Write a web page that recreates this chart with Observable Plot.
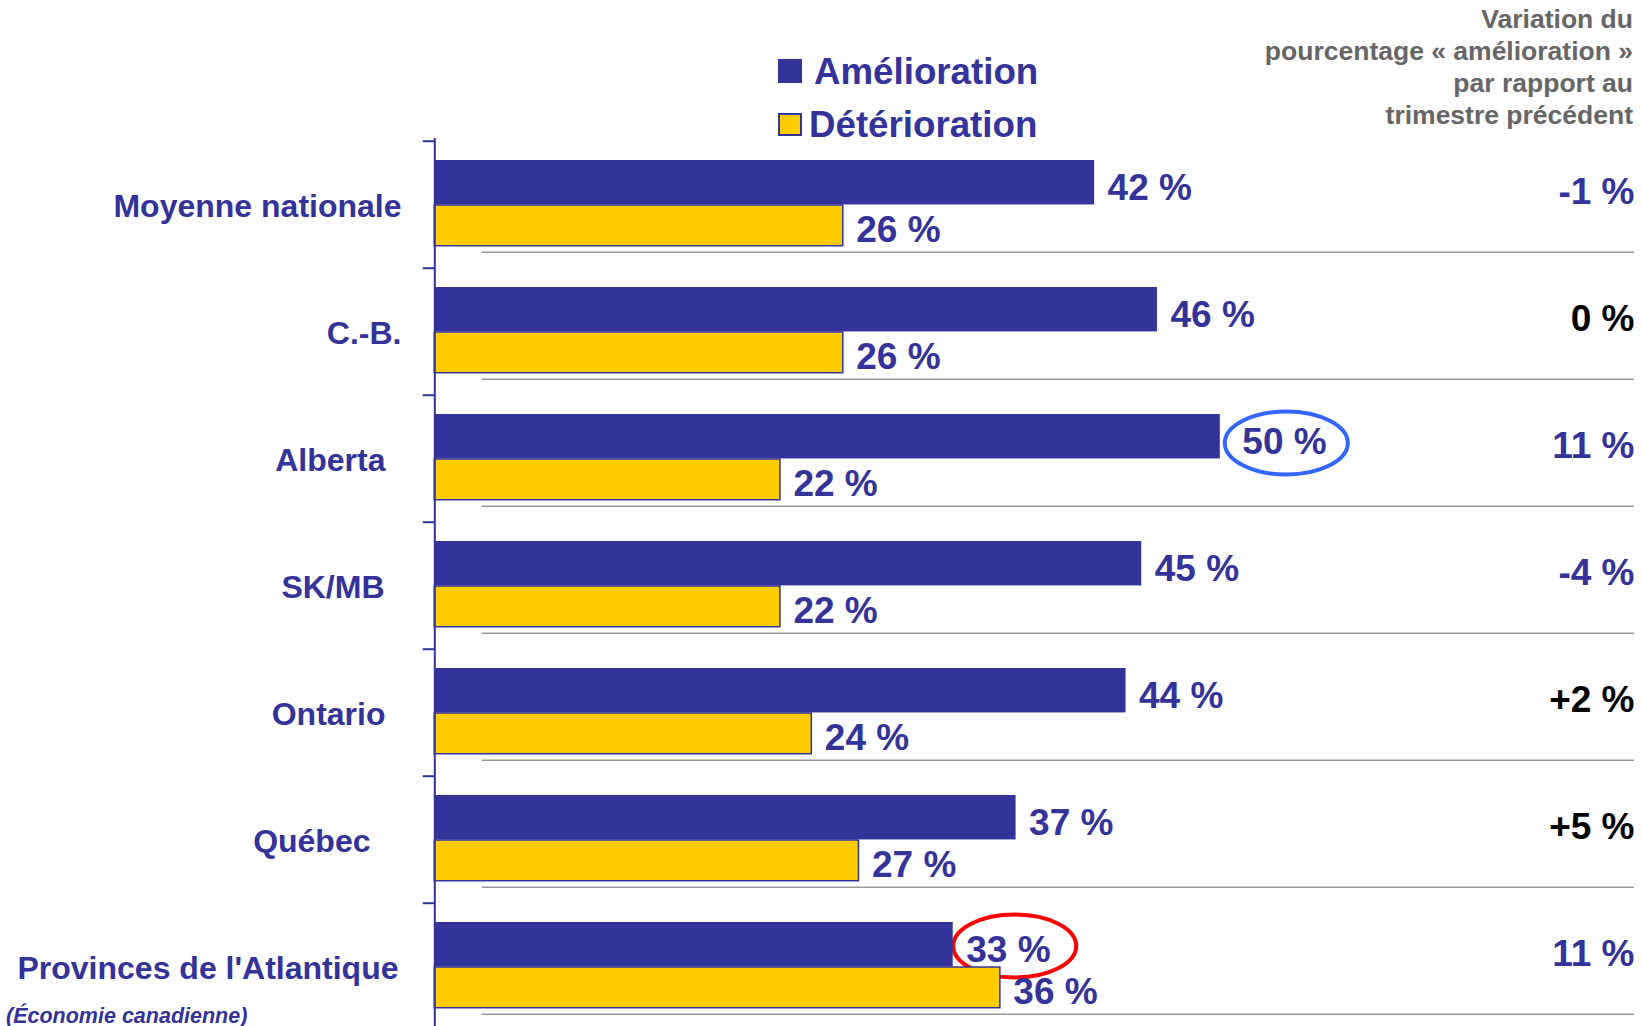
<!DOCTYPE html>
<html>
<head>
<meta charset="utf-8">
<script src="https://cdn.jsdelivr.net/npm/d3@7"></script>
<script src="https://cdn.jsdelivr.net/npm/@observablehq/plot@0.6"></script>
<style>
  html, body { margin: 0; padding: 0; background: #fff; overflow: hidden; }
  #wrap { position: relative; width: 1642px; height: 1026px; overflow: hidden;
          font-family: "Liberation Sans", Arial, sans-serif; font-weight: bold; }
  #wrap svg { position: absolute; left: 0; top: 0; }
  .abs { position: absolute; white-space: nowrap; }
</style>
</head>
<body>
<div id="wrap"></div>
<script>
// ---------- data ----------
const regions = ["Moyenne nationale", "C.-B.", "Alberta", "SK/MB", "Ontario", "Québec", "Provinces de l'Atlantique"];
const amelioration = [42, 46, 50, 45, 44, 37, 33];
const deterioration = [26, 26, 22, 22, 24, 27, 36];
const variationLabels = ["-1 %", "0 %", "11 %", "-4 %", "+2 %", "+5 %", "11 %"];
const seriesNames = ["Amélioration", "Détérioration"];
const noteLines = ["Variation du", "pourcentage « amélioration »", "par rapport au", "trimestre précédent"];
const footnote = "(Économie canadienne)";
const highlightRegions = ["Alberta", "Provinces de l'Atlantique"];

// ---------- styles ----------
const BLUE = "#333399", YELLOW = "#FFCC00";
const variationInk = [BLUE, "#000000", BLUE, BLUE, "#000000", "#000000", BLUE];
const highlightInk = ["#3366FF", "#FF0000"];
const highlightShift = [[66.5, -15.5], [62, -20.5]];   // ellipse centre offset (px) from bar end / band centre
const labelInset = [0, 0, 16, 17, 16, 31, 3];           // category label right-edge inset (px)
const valueNudge = [0, 0, 9, 0, 0, 0, 0];               // extra dx for "amélioration" labels (px)
const FONT = '"Liberation Sans", Arial, sans-serif';

// ---------- layout ----------
const W = 1642, H = 1034, MT = 139, MB = 2, ML = 434.3, MR = 8;
const PX_PER_UNIT = 15.71;
const step = (H - MT - MB) / regions.length;

const rows = regions.map((r, i) => ({
  region: r, amelioration: amelioration[i], deterioration: deterioration[i],
  variation: variationLabels[i], ink: variationInk[i]
}));
const highlights = highlightRegions.map((r, i) => ({
  region: r, value: amelioration[regions.indexOf(r)], ink: highlightInk[i], shift: highlightShift[i]
}));
const fmt = v => v + "\u00a0%";

const chart = Plot.plot({
  width: W, height: H,
  marginTop: MT, marginBottom: MB, marginLeft: ML, marginRight: MR,
  style: { fontFamily: FONT, background: "transparent", overflow: "visible" },
  x: { domain: [0, (W - ML - MR) / PX_PER_UNIT], axis: null },
  y: { domain: regions, padding: 0, axis: null },
  color: { type: "identity" },
  marks: [
    // separators
    Plot.ruleY(regions, { y: d => d, dy: 111 - step / 2, insetLeft: 47.4, stroke: "#999999", strokeWidth: 1.5 }),
    // highlight ellipses
    Plot.dot(highlights, {
      x: "value", y: "region",
      render: (index, scales) => {
        const g = d3.create("svg:g");
        for (const i of index) {
          const d = highlights[i];
          const cx = scales.x(d.value) + d.shift[0];
          const cy = scales.y(d.region) + scales.y.bandwidth() / 2 + d.shift[1];
          g.append("ellipse")
            .attr("cx", cx).attr("cy", cy).attr("rx", 61.5).attr("ry", 31.5)
            .attr("fill", "none").attr("stroke", d.ink).attr("stroke-width", 4);
        }
        return g.node();
      }
    }),
    // bars
    Plot.barX(rows, { x: "amelioration", y: "region", fill: BLUE, insetTop: 19, insetBottom: step - 64 }),
    Plot.barX(rows, { x: "deterioration", y: "region", fill: YELLOW, stroke: BLUE, strokeWidth: 1.5,
                      insetTop: 64, insetBottom: step - 105.3 }),
    // axis line and ticks at band boundaries
    Plot.ruleX([0], { stroke: BLUE, strokeWidth: 2, insetTop: -1 }),
    Plot.ruleY(regions, { y: d => d, dy: -step / 2, insetLeft: -11.6, insetRight: W - ML - MR,
                          stroke: BLUE, strokeWidth: 2 }),
    // value labels (amélioration)
    ...rows.map((row, i) => Plot.text([row], {
      x: "amelioration", y: "region", text: d => fmt(d.amelioration),
      textAnchor: "start", dx: 13 + valueNudge[i], dy: -16.5, fill: BLUE, fontSize: 37, fontWeight: "bold"
    })),
    // value labels (détérioration)
    Plot.text(rows, { x: "deterioration", y: "region", text: d => fmt(d.deterioration),
                      textAnchor: "start", dx: 13, dy: 25, fill: BLUE, fontSize: 37, fontWeight: "bold" }),
    // variation column
    Plot.text(rows, { y: "region", text: "variation", frameAnchor: "right", textAnchor: "end",
                      dy: -13, fill: d => d.ink, fontSize: 37, fontWeight: "bold" }),
    // category labels
    ...regions.map((r, i) => Plot.text([r], {
      y: d => d, text: d => d, frameAnchor: "left", textAnchor: "end",
      dx: -(33.3 + labelInset[i]), dy: 2, fill: BLUE, fontSize: 32, fontWeight: "bold"
    }))
  ]
});

const wrap = document.getElementById("wrap");
wrap.appendChild(chart);

// ---------- legend ----------
function addDiv(styles, text) {
  const el = document.createElement("div");
  el.className = "abs";
  Object.assign(el.style, styles);
  if (text != null) el.textContent = text;
  wrap.appendChild(el);
  return el;
}
addDiv({ left: "778px", top: "59px", width: "23.5px", height: "23.5px", background: BLUE });
addDiv({ left: "778px", top: "113px", width: "23.5px", height: "23px", background: YELLOW,
         border: "2px solid " + BLUE, boxSizing: "border-box" });
addDiv({ left: "814px", top: "53.8px", fontSize: "36.7px", lineHeight: "36.5px", color: BLUE }, seriesNames[0]);
addDiv({ left: "809px", top: "106.6px", fontSize: "36.7px", lineHeight: "36.5px", color: BLUE }, seriesNames[1]);

// ---------- note at top right ----------
const note = addDiv({ right: "9px", top: "2.5px", fontSize: "26.5px", lineHeight: "32.1px",
                      color: "#666666", textAlign: "right" });
noteLines.forEach(line => {
  const s = document.createElement("div");
  s.textContent = line;
  note.appendChild(s);
});

// ---------- footnote ----------
addDiv({ left: "6px", top: "1005.5px", fontSize: "21.5px", lineHeight: "21.5px", color: BLUE, fontStyle: "italic" }, footnote);
</script>
</body>
</html>
